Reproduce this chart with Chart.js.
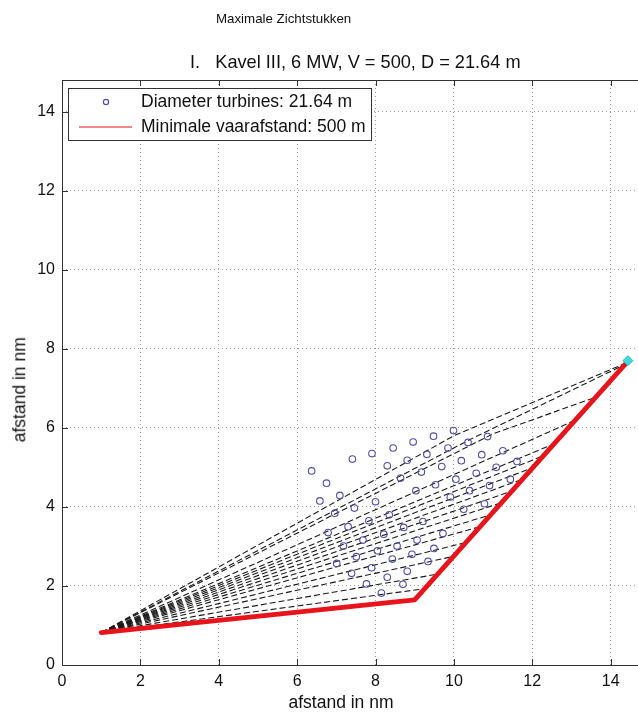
<!DOCTYPE html>
<html>
<head>
<meta charset="utf-8">
<script src="https://cdn.jsdelivr.net/npm/chart.js@4.4.1/dist/chart.umd.min.js"></script>
<style>
  html, body { margin: 0; padding: 0; background: #fff; overflow: hidden; width: 638px; height: 713px; }
  #wrap { position: relative; width: 648px; height: 713px; }
  canvas { position: absolute; left: 0; top: 0; }
  .ttl { position: absolute; font-family: "Liberation Sans", Arial, sans-serif; color: #111; white-space: pre; line-height: 1; }
  #t1 { left: 216px; top: 12px; font-size: 13.3px; }
  #t2 { left: 190px; top: 53px; font-size: 18.2px; }
  #xt { left: 241px; width: 200px; text-align: center; top: 694px; font-size: 17.5px; }
  #yt { left: -80px; width: 200px; text-align: center; top: 381px; font-size: 17.5px; transform: rotate(-90deg); }
</style>
</head>
<body>
<div id="wrap">
  <canvas id="c" width="648" height="713"></canvas>
  <div class="ttl" id="t1">Maximale Zichtstukken</div>
  <div class="ttl" id="t2">I.   Kavel III, 6 MW, V = 500, D = 21.64 m</div>
  <div class="ttl" id="xt">afstand in nm</div>
  <div class="ttl" id="yt">afstand in nm</div>
</div>
<script>
// Turbine positions (nm)
const turbineX = [6.37, 6.75, 6.58, 7.09, 7.41, 7.91, 8.45, 8.96, 9.48, 9.99,
                  8.30, 8.81, 9.31, 9.85, 10.36, 10.86,
                  8.64, 9.17, 9.69, 10.19, 10.71, 11.25,
                  10.05, 10.57, 11.08, 11.61,
                  9.03, 9.53, 10.40, 10.91, 11.44,
                  6.96, 7.46, 8.00, 9.91, 10.25, 10.78,
                  6.79, 7.30, 7.83, 8.35, 8.72, 9.21, 9.72,
                  7.18, 7.68, 8.21, 8.55, 9.06, 9.49,
                  7.01, 7.51, 8.05, 8.43, 8.93, 9.34,
                  7.39, 7.90, 8.30, 8.81, 8.70, 8.15, 7.77];
const turbineY = [4.91, 4.60, 4.15, 4.29, 5.21, 5.35, 5.49, 5.64, 5.79, 5.93,
                  5.04, 5.18, 5.33, 5.49, 5.63, 5.78,
                  4.73, 4.88, 5.02, 5.17, 5.32, 5.42,
                  4.70, 4.85, 5.00, 5.15,
                  4.41, 4.56, 4.41, 4.54, 4.70,
                  3.84, 3.97, 4.13, 4.25, 3.94, 4.08,
                  3.35, 3.50, 3.65, 3.80, 3.48, 3.63, 3.33,
                  3.01, 3.16, 3.31, 3.01, 3.16, 2.95,
                  2.57, 2.74, 2.89, 2.68, 2.80, 2.62,
                  2.32, 2.46, 2.22, 2.37, 2.04, 1.82, 2.05];

// Minimum shipping distance route (nm)
const routeX = [1.00, 9.00, 14.38];
const routeY = [0.82, 1.65, 7.62];

// Sight lines (nm): each runs from the start of the route across the park to the route again
const sightLinesX = [
  [1.00, 10.00, 14.40],
  [1.00, 10.40, 14.40],
  [1.00, 11.00, 13.55],
  [1.00, 13.11],
  [1.00, 12.57],
  [1.00, 12.30],
  [1.00, 12.03],
  [1.00, 11.75],
  [1.00, 11.48],
  [1.00, 11.20],
  [1.00, 10.94],
  [1.00, 10.67],
  [1.00, 10.31],
  [1.00, 10.00],
  [1.00, 9.59],
  [1.00, 9.25]
];
const sightLinesY = [
  [0.82, 5.80, 7.64],
  [0.82, 5.70, 7.62],
  [0.82, 5.85, 6.75],
  [0.82, 6.20],
  [0.82, 5.60],
  [0.82, 5.30],
  [0.82, 5.00],
  [0.82, 4.70],
  [0.82, 4.40],
  [0.82, 4.10],
  [0.82, 3.80],
  [0.82, 3.50],
  [0.82, 3.10],
  [0.82, 2.75],
  [0.82, 2.30],
  [0.82, 1.93]
];

// Viewpoint marker
const viewX = [14.44];
const viewY = [7.70];

// Axis ticks
const xTicks = [0, 2, 4, 6, 8, 10, 12, 14];
const yTicks = [0, 2, 4, 6, 8, 10, 12, 14];

const labelTurbines = 'Diameter turbines: 21.64 m';
const labelRoute = 'Minimale vaarafstand: 500 m';

const FONT = '"Liberation Sans", Arial, sans-serif';
const TURBINE_COLOR = '#4f4fa8';
const ROUTE_COLOR = '#e8131b';

const pts = (xs, ys) => xs.map((x, i) => ({ x: x, y: ys[i] }));

const sightSets = sightLinesX.map((xs, i) => ({
  label: 'sight' + i,
  data: pts(xs, sightLinesY[i]),
  showLine: true,
  borderColor: '#1a1a1a',
  borderWidth: 1.1,
  borderDash: [6, 3],
  pointRadius: 0,
  fill: false,
  order: 5
}));

// Box, inward ticks and the in-axes legend
const framePlugin = {
  id: 'frame',
  afterDraw(chart) {
    const { ctx, chartArea: a, scales } = chart;
    ctx.save();
    ctx.strokeStyle = '#333';
    ctx.lineWidth = 1;
    ctx.setLineDash([]);
    ctx.strokeRect(a.left + 0.5, a.top + 0.5, a.right - a.left, a.bottom - a.top);
    ctx.beginPath();
    xTicks.forEach(v => {
      const px = Math.round(scales.x.getPixelForValue(v)) + 0.5;
      ctx.moveTo(px, a.bottom); ctx.lineTo(px, a.bottom - 6);
      ctx.moveTo(px, a.top); ctx.lineTo(px, a.top + 6);
    });
    yTicks.forEach(v => {
      const py = Math.round(scales.y.getPixelForValue(v)) + 0.5;
      ctx.moveTo(a.left, py); ctx.lineTo(a.left + 6, py);
    });
    ctx.stroke();

    // legend
    const lx = 68, ly = 88, lw = 303, lh = 52;
    ctx.fillStyle = '#fff';
    ctx.fillRect(lx, ly, lw, lh);
    ctx.strokeStyle = '#333';
    ctx.strokeRect(lx + 0.5, ly + 0.5, lw, lh);
    ctx.strokeStyle = TURBINE_COLOR;
    ctx.lineWidth = 1.2;
    ctx.beginPath();
    ctx.arc(106, 102, 2.6, 0, Math.PI * 2);
    ctx.stroke();
    ctx.strokeStyle = ROUTE_COLOR;
    ctx.lineWidth = 1.2;
    ctx.beginPath();
    ctx.moveTo(79, 127); ctx.lineTo(132, 127);
    ctx.stroke();
    ctx.fillStyle = '#111';
    ctx.font = '17.5px ' + FONT;
    ctx.textBaseline = 'middle';
    ctx.textAlign = 'left';
    ctx.fillText(labelTurbines, 141, 102);
    ctx.fillText(labelRoute, 141, 127);
    ctx.restore();
  }
};

new Chart(document.getElementById('c'), {
  type: 'scatter',
  data: {
    datasets: [
      ...sightSets,
      {
        label: labelTurbines,
        data: pts(turbineX, turbineY),
        pointStyle: 'circle',
        pointRadius: 3.3,
        pointBorderWidth: 1.1,
        pointBorderColor: TURBINE_COLOR,
        pointBackgroundColor: 'rgba(0,0,0,0)',
        order: 3
      },
      {
        label: labelRoute,
        data: pts(routeX, routeY),
        showLine: true,
        borderColor: ROUTE_COLOR,
        borderWidth: 4.8,
        borderCapStyle: 'round',
        borderJoinStyle: 'round',
        pointRadius: 0,
        order: 2
      },
      {
        label: 'viewpoint',
        data: pts(viewX, viewY),
        pointStyle: 'rectRot',
        pointRadius: 5,
        pointBackgroundColor: '#3fd9d9',
        pointBorderColor: '#2bb8b8',
        pointBorderWidth: 1,
        order: 1
      }
    ]
  },
  options: {
    responsive: false,
    animation: false,
    devicePixelRatio: 1,
    layout: { padding: { top: 80, left: 0, right: 0, bottom: 0 } },
    plugins: {
      legend: { display: false },
      tooltip: { enabled: false },
      title: { display: false }
    },
    scales: {
      x: {
        type: 'linear',
        min: 0,
        max: 14.8,
        afterBuildTicks(scale) { scale.ticks = xTicks.map(v => ({ value: v })); },
        afterFit(scale) { scale.height = 48; },
        grid: { color: '#a0a0a0', lineWidth: 1, drawTicks: false },
        border: { display: false, dash: [1, 3] },
        ticks: { color: '#111', font: { family: FONT, size: 16 }, padding: 7, maxRotation: 0 }
      },
      y: {
        type: 'linear',
        min: 0,
        max: 14.8,
        afterBuildTicks(scale) { scale.ticks = yTicks.map(v => ({ value: v })); },
        afterFit(scale) { scale.width = 62; },
        grid: { color: '#a0a0a0', lineWidth: 1, drawTicks: false },
        border: { display: false, dash: [1, 3] },
        ticks: { color: '#111', font: { family: FONT, size: 16 }, padding: 7 }
      }
    }
  },
  plugins: [framePlugin]
});
</script>
</body>
</html>
